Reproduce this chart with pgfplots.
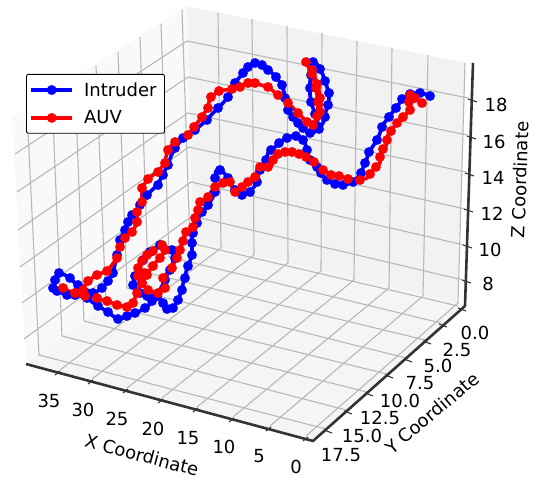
\documentclass[border=0pt]{standalone}
\usepackage{pgfplots}
\pgfplotsset{compat=1.18}
\usepackage{fontspec}
\setmainfont{DejaVu Sans}
\definecolor{spine}{HTML}{333333}
\definecolor{gridc}{HTML}{B8B8B8}
\newcommand{\gl}[4]{\addplot[forget plot,gridc,line width=1.1pt] coordinates {(#1,#2)(#3,#4)};}
\newcommand{\tk}[4]{\addplot[forget plot,spine,line width=1.1pt] coordinates {(#1,#2)(#3,#4)};}
\newcommand{\lab}[4][0]{\node[rotate=#1,inner sep=0pt] at (axis cs:#2,#3) {\fontsize{18}{20}\selectfont #4};}
\begin{document}
% The reference is a perspective 3D view (matplotlib). The curves' depth cannot be
% recovered from one image, so this axis uses image coordinates (x right, y down):
% every point below is read from the picture as its projected position.
\begin{tikzpicture}
\path[use as bounding box] (0,0) rectangle (535pt,478pt);
\begin{axis}[
  at={(0,0)},anchor=south west,
  width=535pt,height=478pt,scale only axis,
  xmin=0,xmax=535,ymin=0,ymax=478,y dir=reverse,
  hide axis,clip=false,
  legend style={at={(rel axis cs:0.0486,0.8452)},anchor=north west,
    draw=black,line width=0.9pt,rounded corners=2pt,fill=white,
    inner xsep=3pt,inner ysep=6pt,row sep=9pt,
    font=\fontsize{18}{20}\selectfont,
    /tikz/every odd column/.append style={column sep=8pt},
    nodes={inner sep=2pt,anchor=west}},
  legend cell align=left,
  legend image code/.code={
    \draw[#1,mark=none] (0pt,0pt)--(41pt,0pt);
    \draw[#1] plot coordinates {(20.5pt,0pt)};},
]
% panes
\addplot[forget plot,fill=black!2.5,draw=none] coordinates {(12,117)(187,6)(193,241)(26,364)};
\addplot[forget plot,fill=black!5,draw=none] coordinates {(187,6)(465,63)(458,302)(193,241)};
\addplot[forget plot,fill=black!3.75,draw=none] coordinates {(26,364)(193,241)(458,302)(465,306)(313,441)};
% right pane verticals (x)
\gl{218}{13}{221}{248}\gl{252}{19}{254}{255}\gl{287}{26}{288}{263}\gl{322}{33}{321}{271}
\gl{357}{41}{354}{280}\gl{392}{48}{389}{288}\gl{428}{55}{423}{296}\gl{465}{63}{458}{303}
% left pane verticals (y)
\gl{182}{10}{190}{243}\gl{161}{24}{169}{257}\gl{140}{37}{148}{273}\gl{118}{52}{127}{288}
\gl{96}{66}{106}{305}\gl{75}{81}{84}{321}\gl{52}{95}{62}{336}\gl{27}{111}{39}{355}
% z lines
\gl{15}{154}{187}{41}\gl{187}{41}{468}{98}
\gl{17}{192}{188}{77}\gl{188}{77}{467}{135}
\gl{18}{230}{188}{113}\gl{188}{113}{466}{172}
\gl{20}{267}{189}{147}\gl{189}{147}{465}{209}
\gl{22}{303}{191}{182}\gl{191}{182}{464}{245}
\gl{24}{339}{192}{216}\gl{192}{216}{463}{280}
% floor x lines
\gl{221}{248}{60}{370}\gl{254}{255}{92}{379}\gl{288}{263}{127}{388}\gl{321}{271}{162}{398}
\gl{354}{280}{197}{407}\gl{389}{288}{233}{417}\gl{423}{296}{270}{426}\gl{458}{303}{306}{436}
% floor y lines
\gl{190}{243}{458}{306}\gl{169}{257}{441}{323}\gl{148}{273}{425}{340}\gl{127}{288}{406}{358}
\gl{106}{305}{387}{374}\gl{84}{321}{367}{392}\gl{62}{336}{346}{410}\gl{39}{355}{326}{429}
% spines
\addplot[forget plot,spine,line width=2.6pt,line join=round] coordinates {(26,364)(313,441)(465,306)(473,63)};
% ticks
\tk{55}{375}{60}{371}\tk{88}{384}{93}{380}\tk{123}{393}{128}{389}\tk{158}{403}{163}{399}
\tk{193}{412}{198}{408}\tk{229}{422}{234}{418}\tk{266}{431}{271}{427}\tk{303}{441}{308}{437}
\tk{458}{308}{466}{311}\tk{439}{324}{447}{327}\tk{423}{341}{431}{344}\tk{404}{359}{412}{362}
\tk{385}{375}{393}{378}\tk{365}{393}{373}{396}\tk{344}{411}{352}{414}\tk{324}{430}{332}{433}
\tk{468}{99}{477}{102}\tk{467}{136}{476}{139}\tk{465}{173}{474}{176}\tk{464}{209}{473}{212}
\tk{463}{245}{472}{248}\tk{462}{280}{471}{283}
% tick labels
\lab{49}{401}{35}\lab{83}{410}{30}\lab{117}{419}{25}\lab{153}{429}{20}
\lab{188}{438}{15}\lab{224}{447}{10}\lab{259}{456}{5}\lab{296}{467}{0}
\lab{475}{333}{0.0}\lab{457}{350}{2.5}\lab{438}{366}{5.0}\lab{420}{383}{7.5}
\lab{400}{401}{10.0}\lab{380}{418}{12.5}\lab{362}{436}{15.0}\lab{341}{455}{17.5}
\lab{496}{105}{18}\lab{494}{142}{16}\lab{493}{178}{14}\lab{492}{214}{12}\lab{490}{250}{10}\lab{488}{284}{8}
\lab[-15]{142}{455}{X Coordinate}
\lab[40]{432}{413}{Y Coordinate}
\lab[88]{520}{180}{Z Coordinate}
% trajectories
\addplot[blue,line width=3.6pt,line join=round,mark=*,mark repeat=2,mark size=4.8pt,mark options={fill=blue,draw=blue,line width=0.2pt}] coordinates {
(430,96)(425,94)(420,93)(415,93)(410,94)(406,96)(402,99)(399,104)(396,108)(392,113)(389,117)(385,122)(382,127)(380,133)(377,140)(373,146)
(369,152)(367,158)(365,163)(363,168)(361,173)(357,178)(353,182)(348,184)(343,185)(339,185)(335,184)(331,182)(327,180)(324,177)(321,173)(319,170)
(317,167)(313,163)(310,160)(308,155)(307,150)(305,143)(303,140)(300,137)(296,136)(292,136)(287,138)(283,140)(279,143)(275,147)(271,150)(268,153)
(266,160)(263,165)(260,170)(258,176)(257,182)(254,187)(250,192)(246,194)(242,195)(238,193)(235,190)(231,184)(228,178)(224,173)(220,170)(216,171)
(215,178)(216,186)(215,192)(212,199)(208,205)(205,209)(202,212)(199,217)(197,223)(195,228)(193,233)(192,238)(192,243)(192,249)(192,255)(190,261)
(188,266)(186,272)(185,278)(183,284)(182,290)(180,295)(178,300)(176,304)(173,308)(170,310)(167,309)(165,306)(163,303)(160,299)(157,296)(152,296)
(147,296)(143,295)(140,293)(136,289)(133,285)(134,280)(135,276)(139,268)(143,260)(146,256)(150,252)(155,248)(160,245)(166,247)(172,250)(175,254)
(175,258)(172,265)(170,270)(167,275)(165,280)(161,288)(157,296)(155,299)(152,301)(149,305)(145,308)(140,311)(135,313)(131,315)(127,316)(123,318)
(118,319)(113,316)(108,312)(103,309)(98,306)(92,302)(87,298)(81,296)(75,295)(71,295)(67,295)(62,293)(57,291)(54,290)(53,288)(54,284)
(55,280)(57,276)(59,273)(65,275)(70,278)(74,282)(78,285)(85,289)(93,293)(98,291)(102,288)(105,285)(108,281)(111,277)(113,273)(115,264)
(117,255)(118,248)(120,240)(122,235)(125,230)(127,226)(128,222)(130,218)(132,215)(136,210)(140,205)(143,200)(147,195)(152,190)(158,185)(160,180)
(163,175)(165,170)(168,165)(171,156)(175,148)(179,143)(183,138)(189,134)(195,130)(201,125)(207,120)(212,114)(218,108)(223,103)(228,97)(231,90)
(235,83)(239,78)(243,73)(245,70)(248,67)(251,65)(255,63)(258,64)(262,65)(265,67)(268,70)(272,73)(276,77)(279,81)(282,85)(284,92)
(285,98)(286,104)(288,110)(290,114)(293,117)(295,120)(298,123)(300,126)(303,128)(306,131)(310,133)(313,133)(319,129)(323,123)(325,117)(326,111)
(328,105)(329,99)(329,93)(327,87)(325,81)(323,75)(320,69)(317,64)(313,62)(312,68)(311,75)(310,82)(310,88)(310,95)(311,102)(313,108)
(315,114)(316,120)(317,126)
};
\addplot[red,line width=3.6pt,line join=round,mark=*,mark repeat=2,mark size=4.8pt,mark options={fill=red,draw=red,line width=0.2pt}] coordinates {
(422,103)(418,100)(415,98)(412,96)(410,95)(409,99)(409,102)(410,106)(410,110)(406,114)(403,117)(400,120)(397,123)(393,128)(391,131)(388,135)
(387,140)(386,146)(383,149)(381,152)(380,157)(380,163)(376,167)(373,170)(370,174)(367,178)(360,180)(353,181)(348,179)(343,177)(339,176)(335,176)
(331,175)(328,173)(323,170)(318,166)(314,162)(310,159)(306,157)(302,155)(299,154)(296,153)(292,152)(289,151)(285,152)(282,153)(278,154)(275,155)
(273,160)(272,165)(268,167)(265,168)(260,167)(257,172)(255,177)(251,180)(248,182)(245,185)(242,187)(238,190)(235,192)(232,187)(230,182)(226,182)
(223,183)(219,185)(215,187)(211,192)(208,197)(204,200)(200,202)(199,206)(198,210)(196,214)(195,218)(194,223)(193,227)(189,230)(186,232)(184,237)
(183,241)(181,246)(180,250)(178,254)(177,258)(174,263)(172,268)(167,273)(163,278)(164,283)(165,288)(161,291)(158,293)(153,292)(148,290)(145,287)
(142,283)(144,279)(147,275)(150,270)(153,266)(156,262)(160,258)(163,254)(165,250)(164,247)(162,245)(157,248)(153,251)(150,253)(147,255)(144,258)
(142,261)(140,264)(138,268)(138,272)(138,276)(141,275)(145,273)(144,278)(142,283)(139,288)(137,293)(135,298)(133,303)(130,305)(127,307)(122,306)
(117,305)(112,303)(107,301)(102,300)(97,298)(91,297)(85,296)(80,295)(75,293)(69,291)(63,288)(69,291)(75,293)(79,292)(83,290)(85,285)
(88,281)(92,278)(97,275)(102,273)(107,271)(112,265)(117,258)(118,252)(120,247)(122,243)(125,238)(128,235)(132,232)(135,227)(137,222)(137,217)
(137,212)(139,207)(142,202)(142,195)(142,188)(145,183)(148,179)(153,175)(158,172)(161,168)(165,163)(166,157)(168,150)(171,146)(175,142)(181,138)
(188,135)(191,131)(194,127)(198,122)(202,117)(205,112)(208,108)(209,102)(211,97)(215,94)(219,91)(225,90)(232,89)(236,88)(240,87)(244,85)
(248,83)(251,83)(255,83)(261,85)(268,87)(273,91)(278,95)(283,99)(288,103)(293,108)(298,113)(302,117)(307,122)(310,124)(313,125)(318,120)
(320,112)(321,105)(320,98)(319,91)(317,84)(315,77)(312,70)(309,65)(306,62)(309,68)(312,74)(314,81)(316,88)(317,95)(318,102)(318,109)(317,116)
};
\legend{Intruder\hspace*{3pt},AUV}
\end{axis}
\end{tikzpicture}
\end{document}
